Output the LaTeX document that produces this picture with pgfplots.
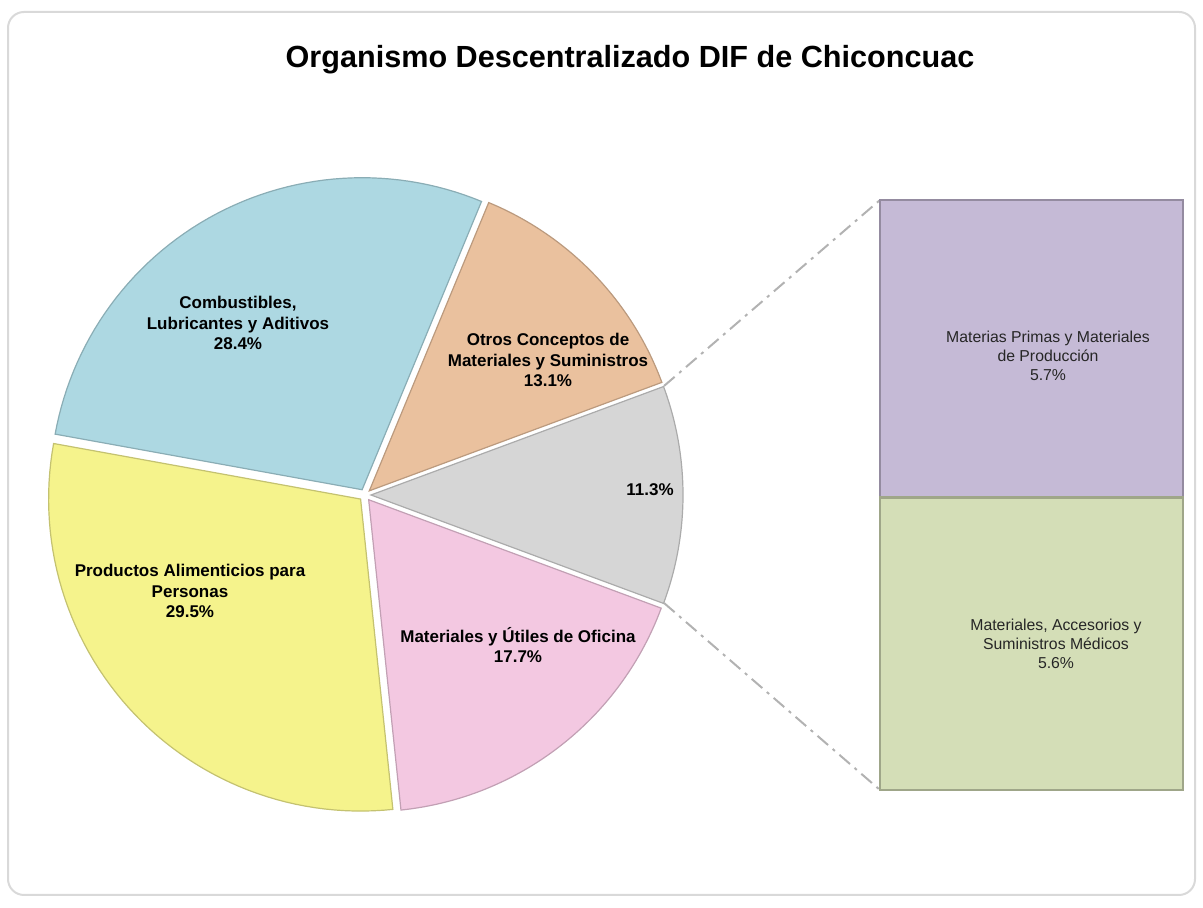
\documentclass[border=0pt]{standalone}
\usepackage{pgfplots}
\pgfplotsset{compat=1.18}
\usepackage{pgfplotstable}
\usepackage{fontspec}
\setmainfont{Liberation Sans}

\definecolor{pgray}{HTML}{D6D6D6}
\definecolor{porange}{HTML}{EAC19E}
\definecolor{pblue}{HTML}{ADD8E2}
\definecolor{pyellow}{HTML}{F5F38C}
\definecolor{ppink}{HTML}{F3C8E1}
\definecolor{ppurple}{HTML}{C5BAD6}
\definecolor{pgreen}{HTML}{D4DEB7}

% pie shares, counter-clockwise from the grey slice on the right
\pgfplotstableread{
val col
11.3 pgray
13.1 porange
28.4 pblue
29.5 pyellow
17.7 ppink
}\piedata

% geometry, in pixel units of the picture
\def\cx{365}\def\cy{413}\def\rr{312}\def\ex{6}

\begin{document}
\begin{tikzpicture}
\begin{axis}[at={(0,0)}, anchor=south west, scale only axis,
    width=601.5pt, height=454pt,
    xmin=0, xmax=1203, ymin=0, ymax=908,
    hide axis, clip=false]
\draw[black!15, line width=1pt, rounded corners=8pt]
    (axis cs:8,13) rectangle (axis cs:1195,896);
\node[font=\bfseries\fontsize{15.3}{18}\selectfont] at (axis cs:630,848)
    {Organismo Descentralizado DIF de Chiconcuac};

\pgfmathsetmacro\angA{-11.3*1.8}
\pgfplotsforeachungrouped \i in {0,...,4}{%
  \pgfplotstablegetelem{\i}{val}\of\piedata \let\v\pgfplotsretval
  \pgfplotstablegetelem{\i}{col}\of\piedata \let\pcol\pgfplotsretval
  \pgfmathsetmacro\angB{\angA+3.6*\v}
  \pgfmathsetmacro\amid{(\angA+\angB)/2}
  \pgfmathsetmacro\ox{\cx+\ex*cos(\amid)}
  \pgfmathsetmacro\oy{\cy+\ex*sin(\amid)}
  \edef\cmd{\noexpand\addplot[fill=\pcol, draw=\pcol!80!black, line width=0.6pt,
      domain=\angA:\angB, samples=60]
      ({\ox+\rr*cos(x)},{\oy+\rr*sin(x)}) -- (axis cs:\ox,\oy) -- cycle;}
  \cmd
  \let\angA\angB
}

\draw[black!30, line width=1pt, dash pattern=on 7pt off 3pt on 1.5pt off 3pt]
    (axis cs:664,522) -- (axis cs:880,708);
\draw[black!30, line width=1pt, dash pattern=on 7pt off 3pt on 1.5pt off 3pt]
    (axis cs:664,305) -- (axis cs:880,118);

\tikzset{lbl/.style={align=center, font=\bfseries\fontsize{8.5}{10.3}\selectfont}}
\node[lbl] at (axis cs:238,585) {Combustibles,\\Lubricantes y Aditivos\\28.4\%};
\node[lbl] at (axis cs:548,548) {Otros Conceptos de\\Materiales y Suministros\\13.1\%};
\node[lbl] at (axis cs:650,418) {11.3\%};
\node[lbl] at (axis cs:190,317) {Productos Alimenticios para\\Personas\\29.5\%};
\node[lbl] at (axis cs:518,263) {Materiales y Útiles de Oficina\\17.7\%};
\end{axis}

\begin{axis}[at={(440pt,59pt)}, anchor=south west, scale only axis,
    width=151.5pt, height=295pt,
    xmin=-0.5, xmax=0.5, ymin=0, ymax=11.3,
    hide axis, clip=false,
    ybar stacked, bar width=151.5pt]
\addplot[fill=pgreen, draw=pgreen!75!black, line width=1.2pt] coordinates {(0,5.6)};
\addplot[fill=ppurple, draw=ppurple!75!black, line width=1.2pt] coordinates {(0,5.7)};
\end{axis}

% labels of the bar, set after it so that they lie on top
\tikzset{blbl/.style={align=center, text=black!85, font=\fontsize{7.9}{9.6}\selectfont}}
\node[blbl] at (524pt,276pt) {Materias Primas y Materiales\\de Producción\\5.7\%};
\node[blbl] at (528pt,132pt) {Materiales, Accesorios y\\Suministros Médicos\\5.6\%};

\pgfresetboundingbox
\useasboundingbox (0,0) rectangle (601.5pt,454pt);
\end{tikzpicture}
\end{document}
